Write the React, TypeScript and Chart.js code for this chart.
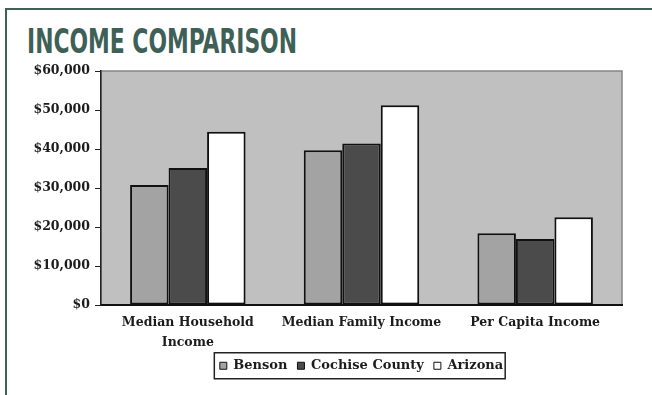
import React, { useEffect, useLayoutEffect, useRef } from "react";
import { Chart, registerables } from "chart.js";

Chart.register(...registerables);

// ---- data ----
const categories: (string | string[])[] = [
  ["Median Household", "Income"],
  "Median Family Income",
  "Per Capita Income",
];
const seriesNames = ["Benson", "Cochise County", "Arizona"];
const bensonValues = [30800, 39700, 18400];
const cochiseValues = [35100, 41400, 16900];
const arizonaValues = [44400, 51200, 22500];
const yMin = 0;
const yMax = 60000;
const yStep = 10000;
const titleText = "INCOME COMPARISON";

// ---- styles ----
const seriesFill = ["#a3a3a3", "#4b4b4b", "#ffffff"];
const frameColor = "#3e6057";
const textColor = "#1c1c1c";
const serif = "'DejaVu Serif', 'Liberation Serif', serif";

const plotBackground = {
  id: "plotBackground",
  beforeDraw(chart: any) {
    const { ctx, chartArea } = chart;
    if (!chartArea) return;
    ctx.save();
    ctx.fillStyle = "#c0c0c0";
    ctx.fillRect(chartArea.left, chartArea.top, chartArea.right - chartArea.left, chartArea.bottom - chartArea.top);
    ctx.strokeStyle = "#858585";
    ctx.lineWidth = 1.5;
    ctx.strokeRect(chartArea.left, chartArea.top, chartArea.right - chartArea.left, chartArea.bottom - chartArea.top);
    ctx.restore();
  },
};

const legendFrame = {
  id: "legendFrame",
  afterDraw(chart: any) {
    const lg = chart.legend;
    if (!lg || !lg.legendHitBoxes || !lg.legendHitBoxes.length) return;
    const hb = lg.legendHitBoxes;
    let left = Infinity;
    let right = -Infinity;
    hb.forEach((b: any) => {
      left = Math.min(left, b.left);
      right = Math.max(right, b.left + b.width);
    });
    const cy = hb[0].top + hb[0].height / 2;
    const { ctx } = chart;
    ctx.save();
    ctx.strokeStyle = "#222";
    ctx.lineWidth = 1.5;
    ctx.strokeRect(left - 5.5, cy - 13, right - left + 7.5, 26);
    ctx.restore();
  },
};

export default function App() {
  const canvasRef = useRef<HTMLCanvasElement | null>(null);
  const titleRef = useRef<HTMLSpanElement | null>(null);

  useLayoutEffect(() => {
    const el = titleRef.current;
    if (!el) return;
    el.style.transform = "none";
    const w = el.getBoundingClientRect().width;
    if (w > 0) el.style.transform = `scaleX(${270 / w})`;
  }, []);

  useEffect(() => {
    if (!canvasRef.current) return;
    const values = [bensonValues, cochiseValues, arizonaValues];
    const chart = new Chart(canvasRef.current, {
      type: "bar",
      data: {
        labels: categories,
        datasets: seriesNames.map((name, i) => ({
          label: name,
          data: values[i],
          backgroundColor: seriesFill[i],
          borderColor: "#111",
          borderWidth: 2,
          borderSkipped: false,
          barPercentage: 1,
          categoryPercentage: 0.665,
        })),
      },
      options: {
        responsive: false,
        animation: false,
        devicePixelRatio: 1,
        layout: { padding: { top: 71, right: 30, left: 0, bottom: 12.75 } },
        plugins: {
          title: { display: false },
          tooltip: { enabled: false },
          legend: {
            position: "bottom",
            fullSize: false,
            labels: {
              boxWidth: 7,
              boxHeight: 7,
              padding: 10,
              color: textColor,
              font: { family: serif, weight: "bold", size: 13 },
              generateLabels(chart: any) {
                const items = Chart.defaults.plugins.legend.labels.generateLabels(chart);
                items.forEach((it: any) => {
                  it.lineWidth = 1;
                  it.strokeStyle = "#111";
                });
                return items;
              },
            },
          },
        },
        scales: {
          x: {
            grid: { display: false, drawTicks: false },
            border: { display: true, color: "#111", width: 2 },
            ticks: {
              color: textColor,
              padding: 7.5,
              maxRotation: 0,
              autoSkip: false,
              font: { family: serif, weight: "bold", size: 12.5, lineHeight: "20px" },
            },
            afterFit(scale: any) {
              scale.height = 44.25;
            },
          },
          y: {
            min: yMin,
            max: yMax,
            grid: { drawOnChartArea: false, tickLength: 6, color: "#222", lineWidth: 1 },
            border: { display: true, color: "#222", width: 1.5 },
            ticks: {
              stepSize: yStep,
              padding: 5,
              color: textColor,
              font: { family: serif, weight: "bold", size: 12.5 },
              callback: (v: any) => "$" + Number(v).toLocaleString("en-US"),
            },
            afterFit(scale: any) {
              scale.width = 101;
            },
          },
        },
      },
      plugins: [plotBackground, legendFrame],
    });
    return () => chart.destroy();
  }, []);

  return (
    <div
      style={{
        position: "fixed",
        left: 0,
        top: 0,
        width: 652,
        height: 395,
        overflow: "hidden",
        background: "#ffffff",
      }}
    >
      <div style={{ position: "absolute", left: 5, top: 8, width: 647, height: 2, background: frameColor }} />
      <div style={{ position: "absolute", left: 5, top: 8, width: 2, height: 387, background: frameColor }} />
      <span
        ref={titleRef}
        style={{
          position: "absolute",
          left: 27,
          top: 23.5,
          fontFamily: "'Liberation Sans Narrow', 'DejaVu Sans Condensed', 'Roboto', sans-serif",
          fontWeight: 700,
          fontSize: 34,
          lineHeight: "34px",
          color: frameColor,
          whiteSpace: "nowrap",
          transformOrigin: "0 0",
        }}
      >
        {titleText}
      </span>
      <canvas
        ref={canvasRef}
        width={652}
        height={395}
        style={{ position: "absolute", left: 0, top: 0, width: 652, height: 395 }}
      />
    </div>
  );
}
